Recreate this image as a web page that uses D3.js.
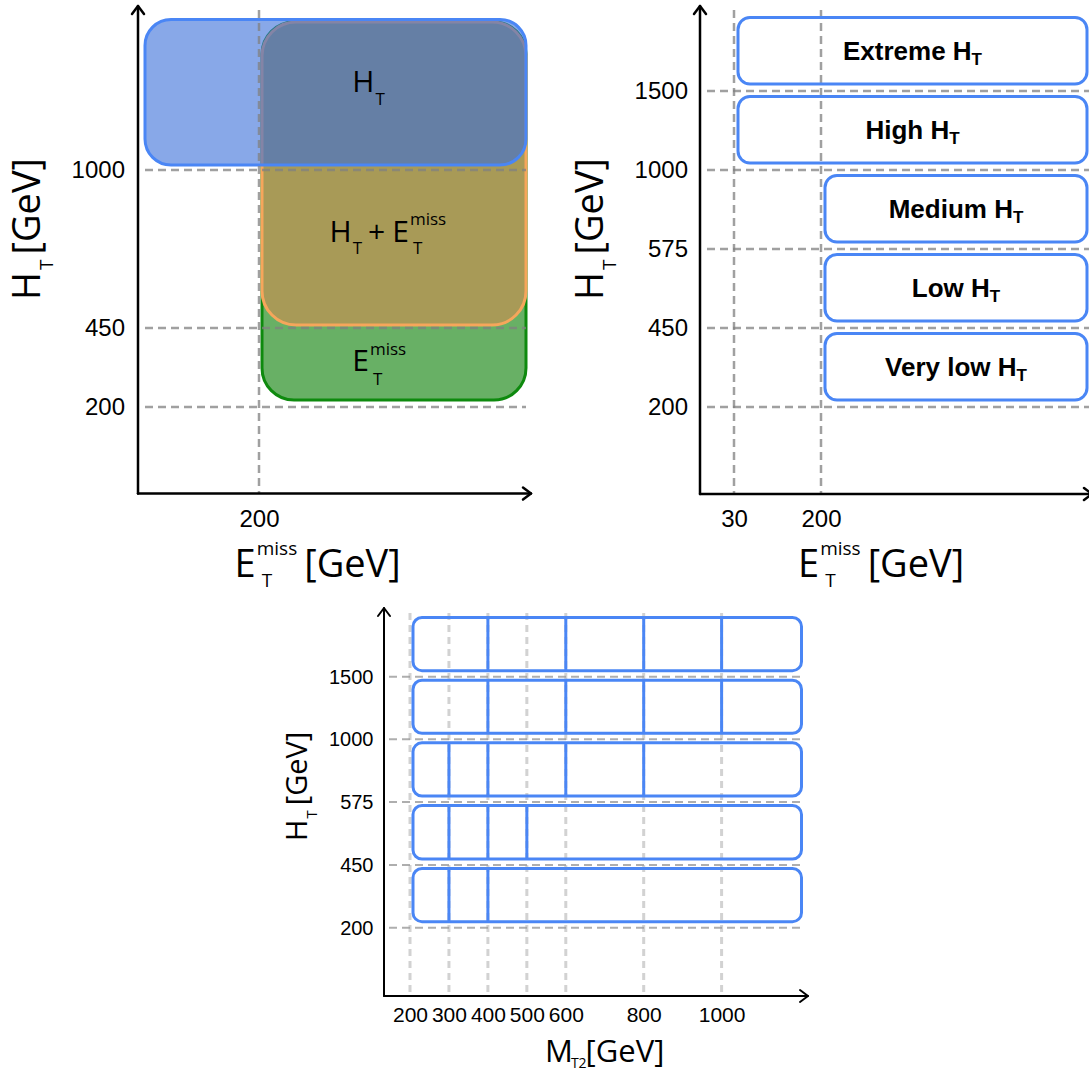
<!DOCTYPE html>
<html><head><meta charset="utf-8">
<script src="https://cdn.jsdelivr.net/npm/d3@7"></script>
<style>
html,body{margin:0;padding:0;background:#fff;}
svg{display:block;}
</style></head>
<body>
<svg id="chart" width="1089" height="1073"></svg>
<script>
// ---------------- data ----------------
const htEdges = [200, 450, 575, 1000, 1500, 2000];   // 2000 = open upper end
const htTicksLeft = [200, 450, 1000];
const htTicksAll = [200, 450, 575, 1000, 1500];
const metTicksLeft = [200];
const metTicksRight = [30, 200];
const mt2Ticks = [200, 300, 400, 500, 600, 800, 1000];

// trigger regions (top-left)
const trigNames = ["MET", "HT+MET", "HT"];
const trigMetMin = [200, 200, 0];
const trigHtMin = [200, 450, 1000];

// HT regions (top-right)
const htRegionNames = ["Very low", "Low", "Medium", "High", "Extreme"];
const htRegionLow = [200, 450, 575, 1000, 1500];
const htRegionHigh = [450, 575, 1000, 1500, 2000];
const htRegionMetMin = [200, 200, 200, 30, 30];

// MT2 bin edges per HT region (bottom)
const mt2EdgesVeryLow = [200, 300, 400, 1200];
const mt2EdgesLow = [200, 300, 400, 500, 1200];
const mt2EdgesMedium = [200, 300, 400, 600, 800, 1200];
const mt2EdgesHigh = [200, 400, 600, 800, 1000, 1200];
const mt2EdgesExtreme = [200, 400, 600, 800, 1000, 1200];

// ---------------- drawing ----------------
const svg = d3.select("#chart");
const TICKFONT = "'Liberation Sans', Arial, sans-serif";
const TITLEFONT = "'Open Sans', 'DejaVu Sans', sans-serif";
const BLUE = "#4a86f5";

// scales
const yTop = d3.scaleLinear().domain(htEdges).range([407, 328, 249, 170, 91, 12]);
const xTL = d3.scaleLinear().domain([0, 200, 1000]).range([145, 259, 526]);
const xTR = d3.scaleLinear().domain([0, 30, 200, 1000]).range([707, 734, 821, 1087]);
const xB = d3.scaleLinear().domain([200, 1200]).range([410, 799.5]);
const yB = d3.scaleLinear().domain(htEdges).range([927.7, 865, 802, 739.3, 676.7, 614]);
const htMax = htEdges[htEdges.length - 1];

// rich text helper: sequential parts with sub/superscripts
function rich(g, x, y, parts, family, weight) {
  let cx = x, pending = -Infinity;
  parts.forEach(p => {
    const t = g.append("text")
      .attr("x", cx + (p.dx || 0)).attr("y", y + (p.dy || 0))
      .attr("font-family", family).attr("font-size", p.s)
      .attr("font-weight", weight || "normal")
      .attr("fill", "#000").text(p.t);
    const w = t.node().getComputedTextLength();
    const end = cx + (p.dx || 0) + w;
    if (p.stay) { pending = end; }
    else { cx = Math.max(end, pending); pending = -Infinity; }
  });
}

function axesArrows(g, x0, y0, yEnd, xEnd, sw) {
  const a = g.append("g").attr("stroke", "#000").attr("stroke-width", sw).attr("fill", "none")
    .attr("stroke-linecap", "round").attr("stroke-linejoin", "round");
  a.append("path").attr("d", `M${x0},${y0}V${yEnd}`);
  a.append("path").attr("d", `M${x0 - 6},${yEnd + 8}L${x0},${yEnd}L${x0 + 6},${yEnd + 8}`);
  a.append("path").attr("d", `M${x0},${y0}H${xEnd}`);
  a.append("path").attr("d", `M${xEnd - 8},${y0 - 6}L${xEnd},${y0}L${xEnd - 8},${y0 + 6}`);
}

function styleAxis(g, size) {
  g.select(".domain").remove();
  g.attr("font-size", size).attr("font-family", TICKFONT);
  g.selectAll("text").attr("fill", "#000");
}

// ===== Panel 1: top-left (trigger regions) =====
const p1 = svg.append("g");
const trigStyle = {
  "MET":    {fill: "#68b065", fop: 1,   stroke: "#0e8a0e", padT: 10,  padB: 7, padL: 3, rx: 32},
  "HT+MET": {fill: "#a89a57", fop: 1,   stroke: "#f6a65b", padT: 10,  padB: 3, padL: 3, rx: 34},
  "HT":     {fill: "rgb(57,110,217)", fop: 0.6, stroke: BLUE, padT: 7.5, padB: 5, padL: 0, rx: 26}
};
trigNames.forEach((n, i) => {
  const st = trigStyle[n];
  const x0 = xTL(trigMetMin[i]) + st.padL, x1 = xTL(1000);
  const y0 = yTop(htMax) + st.padT, y1 = yTop(trigHtMin[i]) - st.padB;
  p1.append("rect").attr("x", x0).attr("y", y0).attr("width", x1 - x0).attr("height", y1 - y0)
    .attr("rx", st.rx).attr("ry", st.rx)
    .attr("fill", st.fill).attr("fill-opacity", st.fop)
    .attr("stroke", st.stroke).attr("stroke-width", 3);
});
// dashed guides
const dashTL = p1.append("g").attr("stroke", "#808080").attr("stroke-opacity", 0.75)
  .attr("stroke-width", 2.5).attr("stroke-dasharray", "8,5").attr("fill", "none");
htTicksLeft.forEach(h => dashTL.append("line").attr("x1", xTL(0)).attr("x2", xTL(1000))
  .attr("y1", yTop(h)).attr("y2", yTop(h)));
metTicksLeft.forEach(m => dashTL.append("line").attr("x1", xTL(m)).attr("x2", xTL(m))
  .attr("y1", 10).attr("y2", 493));
// region labels
rich(p1, 352.3, 92, [{t: "H", s: 30}, {t: "T", s: 17, dy: 13, dx: 1}], TITLEFONT);
rich(p1, 329.6, 241.7, [{t: "H", s: 30}, {t: "T", s: 17, dy: 12, dx: 1}, {t: "+", s: 30, dx: 6},
  {t: "E", s: 30, dx: 7}, {t: "miss", s: 17, dy: -17, dx: 1, stay: true}, {t: "T", s: 17, dy: 12, dx: 4}], TITLEFONT);
rich(p1, 352.3, 371, [{t: "E", s: 30}, {t: "miss", s: 17, dy: -16, dx: 1, stay: true}, {t: "T", s: 17, dy: 14, dx: 4}], TITLEFONT);
// axes
axesArrows(p1, 138, 493.6, 6, 531, 2.5);
p1.append("g").attr("transform", "translate(138,0)")
  .call(d3.axisLeft(yTop).tickValues(htTicksLeft).tickSize(0).tickPadding(13).tickFormat(d3.format("d")))
  .call(g => styleAxis(g, 24));
p1.append("g").attr("transform", "translate(0,493.6)")
  .call(d3.axisBottom(xTL).tickValues(metTicksLeft).tickSize(0).tickPadding(16).tickFormat(d3.format("d")))
  .call(g => styleAxis(g, 24));
rich(p1, 234.6, 577, [{t: "E", s: 38}, {t: "miss", s: 19, dy: -22, dx: 1, stay: true},
  {t: "T", s: 19, dy: 10, dx: 6}, {t: "[GeV]", s: 38, dx: 7}], TITLEFONT);
const yt1 = p1.append("g").attr("transform", "translate(40,300) rotate(-90)");
rich(yt1, 0, 0, [{t: "H", s: 38}, {t: "T", s: 19, dy: 13, dx: 2}, {t: "[GeV]", s: 38, dx: 5}], TITLEFONT);

// ===== Panel 2: top-right (HT regions) =====
const p2 = svg.append("g");
const dashTR = p2.append("g").attr("stroke", "#808080").attr("stroke-opacity", 0.75)
  .attr("stroke-width", 2.5).attr("stroke-dasharray", "8,5").attr("fill", "none");
htTicksAll.forEach(h => dashTR.append("line").attr("x1", xTR(0)).attr("x2", 1089)
  .attr("y1", yTop(h)).attr("y2", yTop(h)));
metTicksRight.forEach(m => dashTR.append("line").attr("x1", xTR(m)).attr("x2", xTR(m))
  .attr("y1", 10).attr("y2", 493));
htRegionNames.forEach((n, i) => {
  const x0 = xTR(htRegionMetMin[i]) + 4, x1 = xTR(1000);
  const y0 = yTop(htRegionHigh[i]) + 5.5, y1 = yTop(htRegionLow[i]) - 7;
  p2.append("rect").attr("x", x0).attr("y", y0).attr("width", x1 - x0).attr("height", y1 - y0)
    .attr("rx", 12).attr("ry", 12).attr("fill", "none").attr("stroke", BLUE).attr("stroke-width", 3);
  const t = p2.append("text").attr("x", (x0 + x1) / 2).attr("y", (y0 + y1) / 2 + 9)
    .attr("text-anchor", "middle").attr("font-family", TICKFONT).attr("font-weight", "bold")
    .attr("font-size", 26).attr("fill", "#000");
  t.append("tspan").text(n + " H");
  t.append("tspan").attr("font-size", 17).attr("dy", 5).text("T");
});
axesArrows(p2, 700, 494, 6, 1092, 2.5);
p2.append("g").attr("transform", "translate(700,0)")
  .call(d3.axisLeft(yTop).tickValues(htTicksAll).tickSize(0).tickPadding(12).tickFormat(d3.format("d")))
  .call(g => styleAxis(g, 24));
p2.append("g").attr("transform", "translate(0,494)")
  .call(d3.axisBottom(xTR).tickValues(metTicksRight).tickSize(0).tickPadding(16).tickFormat(d3.format("d")))
  .call(g => styleAxis(g, 24));
rich(p2, 798, 577, [{t: "E", s: 38}, {t: "miss", s: 19, dy: -22, dx: 1, stay: true},
  {t: "T", s: 19, dy: 10, dx: 6}, {t: "[GeV]", s: 38, dx: 7}], TITLEFONT);
const yt2 = p2.append("g").attr("transform", "translate(603,300) rotate(-90)");
rich(yt2, 0, 0, [{t: "H", s: 38}, {t: "T", s: 19, dy: 13, dx: 2}, {t: "[GeV]", s: 38, dx: 5}], TITLEFONT);

// ===== Panel 3: bottom (MT2 binning) =====
const p3 = svg.append("g");
const vdash = p3.append("g").attr("stroke", "#d2d2d2").attr("stroke-width", 3)
  .attr("stroke-dasharray", "7,5").attr("fill", "none");
mt2Ticks.forEach(m => vdash.append("line").attr("x1", xB(m)).attr("x2", xB(m)).attr("y1", 613).attr("y2", 993));
const hdash = p3.append("g").attr("stroke", "#9a9a9a").attr("stroke-opacity", 0.8).attr("stroke-width", 2)
  .attr("stroke-dasharray", "8,5").attr("fill", "none");
htTicksAll.forEach(h => hdash.append("line").attr("x1", 389).attr("x2", 802).attr("y1", yB(h)).attr("y2", yB(h)));
const mt2EdgesByRegion = [mt2EdgesVeryLow, mt2EdgesLow, mt2EdgesMedium, mt2EdgesHigh, mt2EdgesExtreme];
mt2EdgesByRegion.forEach((edges, i) => {
  const x0 = xB(edges[0]) + 3, x1 = xB(edges[edges.length - 1]) + 2;
  const y0 = yB(htRegionHigh[i]) + 3.5, y1 = yB(htRegionLow[i]) - 6;
  p3.append("rect").attr("x", x0).attr("y", y0).attr("width", x1 - x0).attr("height", y1 - y0)
    .attr("rx", 9).attr("ry", 9).attr("fill", "none").attr("stroke", BLUE).attr("stroke-width", 3);
  edges.slice(1, -1).forEach(e => p3.append("line").attr("x1", xB(e)).attr("x2", xB(e))
    .attr("y1", y0).attr("y2", y1).attr("stroke", BLUE).attr("stroke-width", 3));
});
axesArrows(p3, 384, 996, 608, 808, 2);
p3.append("g").attr("transform", "translate(384,0)")
  .call(d3.axisLeft(yB).tickValues(htTicksAll).tickSize(0).tickPadding(10.5).tickFormat(d3.format("d")))
  .call(g => styleAxis(g, 20));
p3.append("g").attr("transform", "translate(0,996)")
  .call(d3.axisBottom(xB).tickValues(mt2Ticks).tickSize(0).tickPadding(11).tickFormat(d3.format("d")))
  .call(g => styleAxis(g, 21));
rich(p3, 545, 1062, [{t: "M", s: 31}, {t: "T2", s: 14, dy: 5.5, dx: -2}, {t: "[GeV]", s: 31, dx: -1}], TITLEFONT);
const yt3 = p3.append("g").attr("transform", "translate(307,841) rotate(-90)");
rich(yt3, 0, 0, [{t: "H", s: 29}, {t: "T", s: 15, dy: 10, dx: 1}, {t: "[GeV]", s: 29, dx: 5}], TITLEFONT);
</script>
</body></html>
